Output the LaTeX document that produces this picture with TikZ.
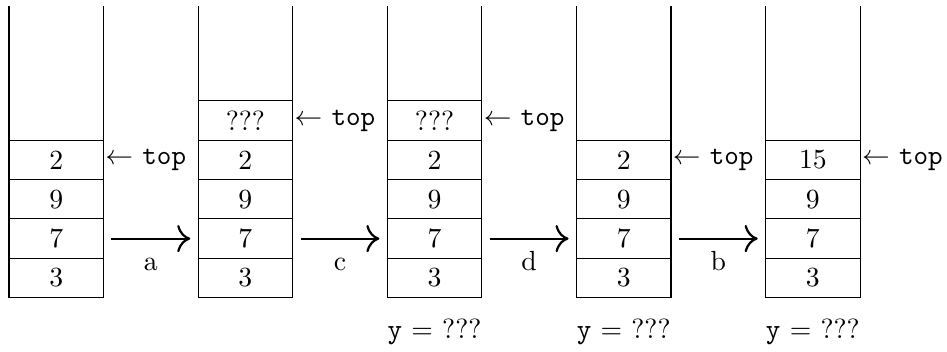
\documentclass[tikz,border=0pt]{standalone}
\usepackage{tikz}
\usetikzlibrary{arrows.meta,positioning}

\begin{document}
\begin{tikzpicture}[
  node distance=0pt,
  cell/.style={draw,minimum width=1.2cm,minimum height=0.5cm,inner sep=0pt,outer sep=0pt},
  ptr/.style={inner sep=0.5pt},
  arr/.style={-{To[scale=1.4]},thick,shorten <=0.1cm,shorten >=0.1cm},
  lbl/.style={anchor=base,yshift=-4mm},
  res/.style={below=1.5mm of #1}
]
  \useasboundingbox (-0.114,-0.676) rectangle (11.902,3.778);

  % bottom row
  \node[cell] (s1-1) at (0.6,0.25) {3};
  \node[cell, right=1.2cm of s1-1] (s2-1) {3};
  \node[cell, right=1.2cm of s2-1] (s3-1) {3};
  \node[cell, right=1.2cm of s3-1] (s4-1) {3};
  \node[cell, right=1.2cm of s4-1] (s5-1) {3};

  % stack 1
  \node[cell, above=of s1-1] (s1-2) {7};
  \node[cell, above=of s1-2] (s1-3) {9};
  \node[cell, above=of s1-3] (s1-4) {2};
  \node[ptr, right=0pt of s1-4] (t1) {$\leftarrow$ \texttt{top}};

  % stack 2
  \node[cell, above=of s2-1] (s2-2) {7};
  \node[cell, above=of s2-2] (s2-3) {9};
  \node[cell, above=of s2-3] (s2-4) {2};
  \node[cell, above=of s2-4] (s2-5) {???};
  \node[ptr, right=0pt of s2-5] (t2) {$\leftarrow$ \texttt{top}};

  % stack 3
  \node[cell, above=of s3-1] (s3-2) {7};
  \node[cell, above=of s3-2] (s3-3) {9};
  \node[cell, above=of s3-3] (s3-4) {2};
  \node[cell, above=of s3-4] (s3-5) {???};
  \node[ptr, right=0pt of s3-5] (t3) {$\leftarrow$ \texttt{top}};

  % stack 4
  \node[cell, above=of s4-1] (s4-2) {7};
  \node[cell, above=of s4-2] (s4-3) {9};
  \node[cell, above=of s4-3] (s4-4) {2};
  \node[ptr, right=0pt of s4-4] (t4) {$\leftarrow$ \texttt{top}};

  % stack 5
  \node[cell, above=of s5-1] (s5-2) {7};
  \node[cell, above=of s5-2] (s5-3) {9};
  \node[cell, above=of s5-3] (s5-4) {15};
  \node[ptr, right=0pt of s5-4] (t5) {$\leftarrow$ \texttt{top}};

  % walls
  \draw (s1-1.south west) -- ++(0,3.7) (s1-1.south east) -- ++(0,3.7);
  \draw (s2-1.south west) -- ++(0,3.7) (s2-1.south east) -- ++(0,3.7);
  \draw (s3-1.south west) -- ++(0,3.7) (s3-1.south east) -- ++(0,3.7);
  \draw (s4-1.south west) -- ++(0,3.7) (s4-1.south east) -- ++(0,3.7);
  \draw (s5-1.south west) -- ++(0,3.7) (s5-1.south east) -- ++(0,3.7);

  \node[res=s3-1] (y3) {\texttt{y} = ???};
  \node[res=s4-1] (y4) {\texttt{y} = ???};
  \node[res=s5-1] (y5) {\texttt{y} = ???};

  \draw[arr] (s1-2) -- node[lbl]{a} (s2-2);
  \draw[arr] (s2-2) -- node[lbl]{c} (s3-2);
  \draw[arr] (s3-2) -- node[lbl]{d} (s4-2);
  \draw[arr] (s4-2) -- node[lbl]{b} (s5-2);
\end{tikzpicture}
\end{document}
